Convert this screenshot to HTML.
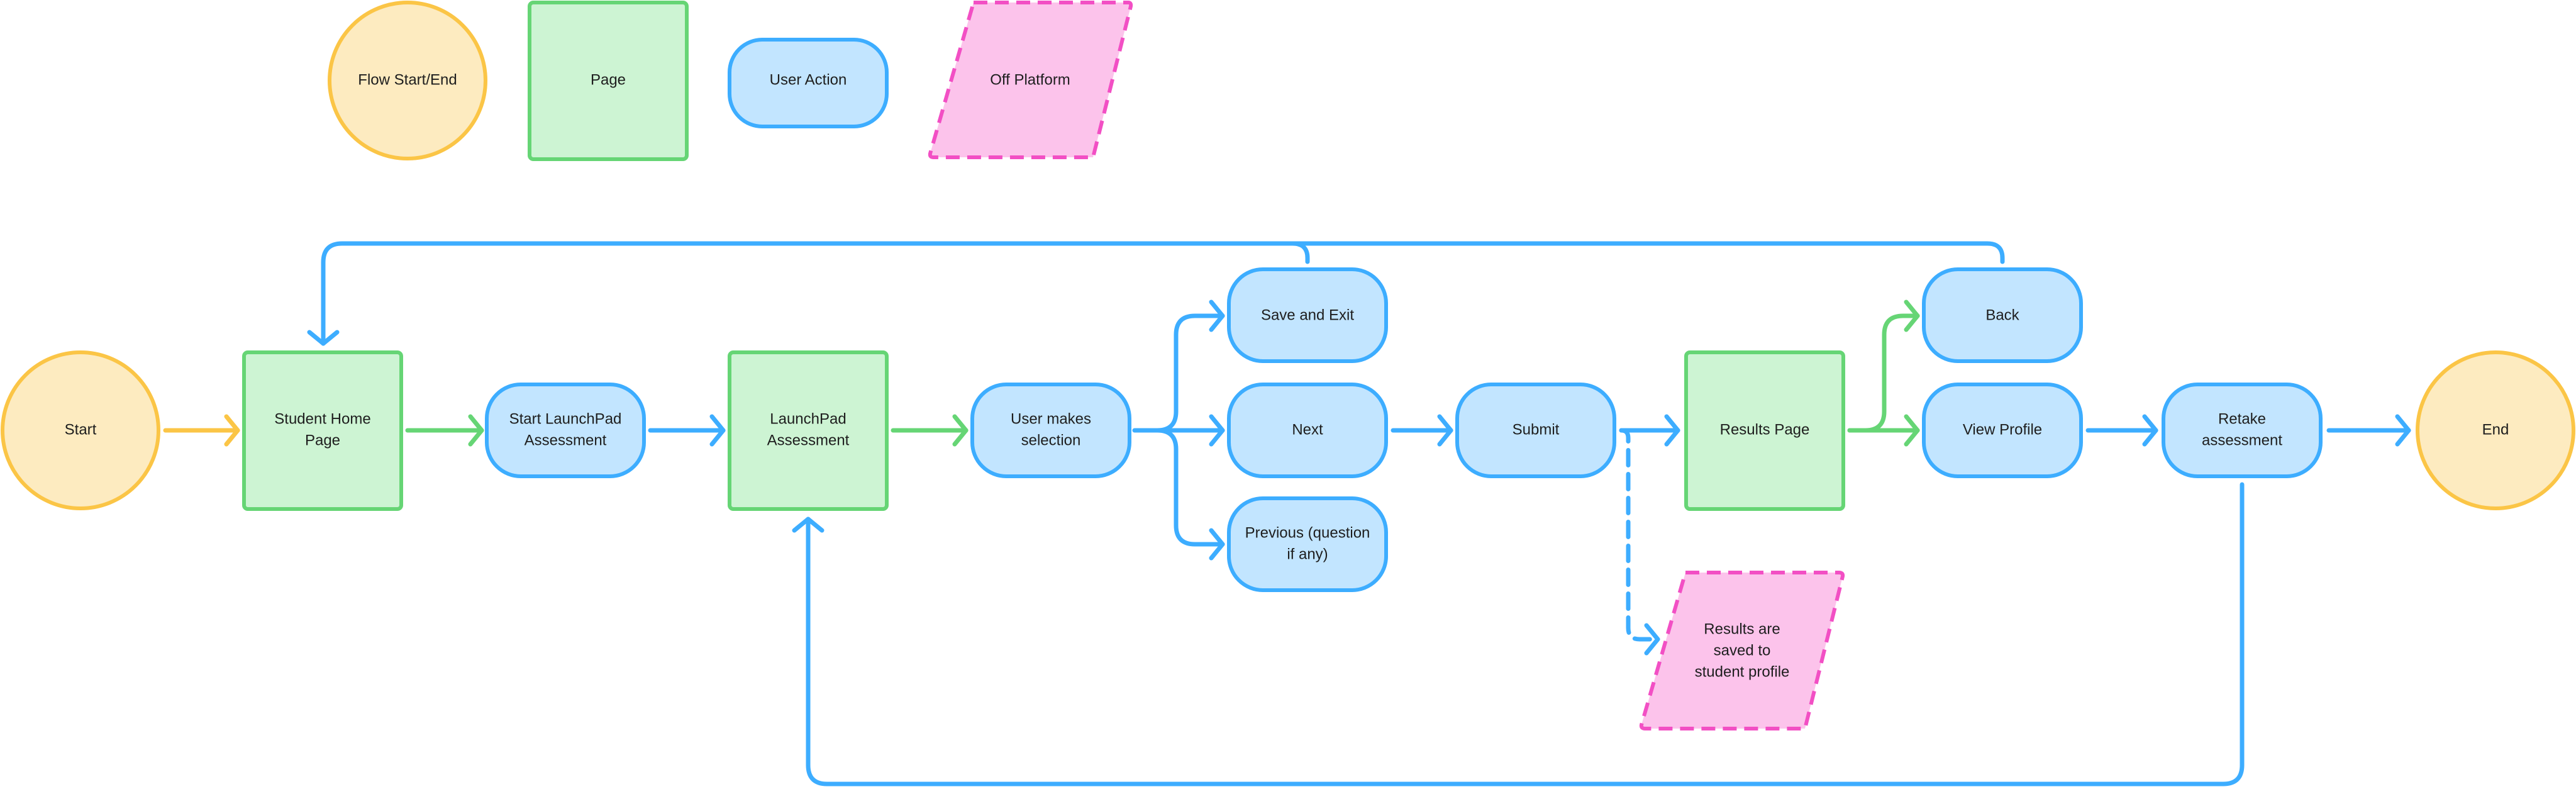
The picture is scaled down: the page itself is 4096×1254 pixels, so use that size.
<!DOCTYPE html>
<html><head><meta charset="utf-8"><style>
html,body{margin:0;padding:0;background:#fff}
svg{display:block}
text{font-family:"Liberation Sans",sans-serif;font-size:24px;fill:#1e1e1e;text-anchor:middle;dominant-baseline:middle}
</style></head><body>
<svg width="4096" height="1254" viewBox="0 0 4096 1254" xmlns="http://www.w3.org/2000/svg">
<defs>
<marker id="ab" markerUnits="userSpaceOnUse" markerWidth="60" markerHeight="60" refX="0" refY="0" viewBox="-30 -30 60 60" orient="auto" overflow="visible"><path d="M-18,-22 L0,0 L-18,22" fill="none" stroke="#3DADFF" stroke-width="7" stroke-linecap="round" stroke-linejoin="round"/></marker>
<marker id="ag" markerUnits="userSpaceOnUse" markerWidth="60" markerHeight="60" refX="0" refY="0" viewBox="-30 -30 60 60" orient="auto" overflow="visible"><path d="M-18,-22 L0,0 L-18,22" fill="none" stroke="#66D575" stroke-width="7" stroke-linecap="round" stroke-linejoin="round"/></marker>
<marker id="ay" markerUnits="userSpaceOnUse" markerWidth="60" markerHeight="60" refX="0" refY="0" viewBox="-30 -30 60 60" orient="auto" overflow="visible"><path d="M-18,-22 L0,0 L-18,22" fill="none" stroke="#FBC546" stroke-width="7" stroke-linecap="round" stroke-linejoin="round"/></marker>
</defs>

<!-- Legend -->
<ellipse cx="648" cy="128" rx="124" ry="124" fill="#FDEBC0" stroke="#FBC546" stroke-width="6"/>
<text x="648" y="128">Flow Start/End</text>
<rect x="842" y="4" width="250" height="249" rx="6" fill="#CDF4D3" stroke="#66D575" stroke-width="6"/>
<text x="967" y="128">Page</text>
<rect x="1160" y="63" width="250" height="138" rx="52" fill="#C2E5FF" stroke="#3DADFF" stroke-width="6"/>
<text x="1285" y="128">User Action</text>
<path d="M1548,4 H1794 Q1799,4 1798,10 L1738,250 H1484 Q1478,250 1479,244 Z" fill="#FCC3EB" stroke="#F24FC4" stroke-width="6" stroke-dasharray="22,12"/>
<text x="1638" y="128">Off Platform</text>

<!-- Connectors -->
<g fill="none" stroke-width="7" stroke-linecap="round" stroke-linejoin="round">
<path d="M263,684 H378" stroke="#FBC546" marker-end="url(#ay)"/>
<path d="M648,684 H766" stroke="#66D575" marker-end="url(#ag)"/>
<path d="M1034,684 H1150" stroke="#3DADFF" marker-end="url(#ab)"/>
<path d="M1420,684 H1536" stroke="#66D575" marker-end="url(#ag)"/>
<path d="M1804,684 H1944" stroke="#3DADFF" marker-end="url(#ab)"/>
<path d="M1840,684 Q1870,684 1870,654 V532 Q1870,502 1900,502 H1944" stroke="#3DADFF" marker-end="url(#ab)"/>
<path d="M1840,684 Q1870,684 1870,714 V835 Q1870,865 1900,865 H1944" stroke="#3DADFF" marker-end="url(#ab)"/>
<path d="M2215,684 H2307" stroke="#3DADFF" marker-end="url(#ab)"/>
<path d="M2578,684 H2668" stroke="#3DADFF" marker-end="url(#ab)"/>
<path d="M2578,684 Q2589,684 2589,696 V998 Q2589,1016 2607,1016 H2636" stroke="#3DADFF" stroke-dasharray="24,14" marker-end="url(#ab)"/>
<path d="M2941,684 H3049" stroke="#66D575" marker-end="url(#ag)"/>
<path d="M2941,684 H2966 Q2996,684 2996,654 V532 Q2996,502 3026,502 H3049" stroke="#66D575" marker-end="url(#ag)"/>
<path d="M3320,684 H3428" stroke="#3DADFF" marker-end="url(#ab)"/>
<path d="M3703,684 H3830" stroke="#3DADFF" marker-end="url(#ab)"/>
<path d="M3184,416 V410 Q3184,387 3160,387 H544 Q514,387 514,417 V546" stroke="#3DADFF" marker-end="url(#ab)"/>
<path d="M2079,416 V410 Q2079,387 2055,387" stroke="#3DADFF"/>
<path d="M3565,770 V1216 Q3565,1246 3535,1246 H1315 Q1285,1246 1285,1216 V825" stroke="#3DADFF" marker-end="url(#ab)"/>
</g>

<!-- Nodes -->
<ellipse cx="128" cy="684" rx="124" ry="124" fill="#FDEBC0" stroke="#FBC546" stroke-width="6"/>
<text x="128" y="684">Start</text>
<rect x="388" y="560" width="250" height="249" rx="6" fill="#CDF4D3" stroke="#66D575" stroke-width="6"/>
<text x="513" y="667">Student Home</text><text x="513" y="701">Page</text>
<rect x="774" y="611" width="250" height="146" rx="54" fill="#C2E5FF" stroke="#3DADFF" stroke-width="6"/>
<text x="899" y="667">Start LaunchPad</text><text x="899" y="701">Assessment</text>
<rect x="1160" y="560" width="250" height="249" rx="6" fill="#CDF4D3" stroke="#66D575" stroke-width="6"/>
<text x="1285" y="667">LaunchPad</text><text x="1285" y="701">Assessment</text>
<rect x="1546" y="611" width="250" height="146" rx="54" fill="#C2E5FF" stroke="#3DADFF" stroke-width="6"/>
<text x="1671" y="667">User makes</text><text x="1671" y="701">selection</text>
<rect x="1954" y="428" width="250" height="146" rx="54" fill="#C2E5FF" stroke="#3DADFF" stroke-width="6"/>
<text x="2079" y="502">Save and Exit</text>
<rect x="1954" y="611" width="250" height="146" rx="54" fill="#C2E5FF" stroke="#3DADFF" stroke-width="6"/>
<text x="2079" y="684">Next</text>
<rect x="1954" y="792" width="250" height="146" rx="54" fill="#C2E5FF" stroke="#3DADFF" stroke-width="6"/>
<text x="2079" y="848">Previous (question</text><text x="2079" y="882">if any)</text>
<rect x="2317" y="611" width="250" height="146" rx="54" fill="#C2E5FF" stroke="#3DADFF" stroke-width="6"/>
<text x="2442" y="684">Submit</text>
<rect x="2681" y="560" width="250" height="249" rx="6" fill="#CDF4D3" stroke="#66D575" stroke-width="6"/>
<text x="2806" y="684">Results Page</text>
<path d="M2680,910 H2924 Q2931,910 2930,916 L2870,1158 H2616 Q2609,1158 2610,1152 Z" fill="#FCC3EB" stroke="#F24FC4" stroke-width="6" stroke-dasharray="22,12"/>
<text x="2770" y="1001">Results are</text><text x="2770" y="1035">saved to</text><text x="2770" y="1069">student profile</text>
<rect x="3059" y="428" width="250" height="146" rx="54" fill="#C2E5FF" stroke="#3DADFF" stroke-width="6"/>
<text x="3184" y="502">Back</text>
<rect x="3059" y="611" width="250" height="146" rx="54" fill="#C2E5FF" stroke="#3DADFF" stroke-width="6"/>
<text x="3184" y="684">View Profile</text>
<rect x="3440" y="611" width="250" height="146" rx="54" fill="#C2E5FF" stroke="#3DADFF" stroke-width="6"/>
<text x="3565" y="667">Retake</text><text x="3565" y="701">assessment</text>
<ellipse cx="3968" cy="684" rx="124" ry="124" fill="#FDEBC0" stroke="#FBC546" stroke-width="6"/>
<text x="3968" y="684">End</text>
</svg>
</body></html>
